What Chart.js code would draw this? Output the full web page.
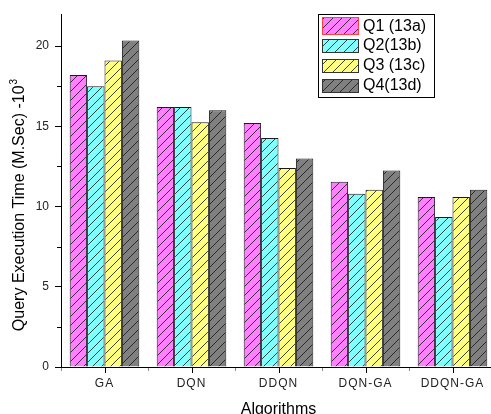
<!DOCTYPE html>
<html><head><meta charset="utf-8">
<style>html,body{margin:0;padding:0;overflow:hidden;background:#fff;width:491px;height:414px}canvas{display:block}</style>
<script src="https://cdn.jsdelivr.net/npm/chart.js@4.4.0/dist/chart.umd.min.js"></script>
</head><body><canvas id="c" width="500" height="414"></canvas>
<script>
const categories = ['GA','DQN','DDQN','DQN-GA','DDQN-GA'];
const seriesNames = ['Q1 (13a)','Q2(13b)','Q3 (13c)','Q4(13d)'];
const q1 = [18.2, 16.2, 15.2, 11.55, 10.6];
const q2 = [17.5, 16.2, 14.27, 10.8, 9.35];
const q3 = [19.1, 15.25, 12.4, 11.05, 10.6];
const q4 = [20.35, 16.0, 13.0, 12.25, 11.05];
const yTicks = [0, 5, 10, 15, 20];
const yMinorTicks = [2.5, 7.5, 12.5, 17.5];
const yTitle = 'Query Execution Time (M.Sec) -10';
const yTitleSup = '3';
const xTitle = 'Algorithms';
const colors = ['#FF80FF', '#80FFFF', '#FFFF80', '#808080'];
const FONT = '"Liberation Sans", Arial, sans-serif';

function hatch(color, size) {
  const c = document.createElement('canvas');
  c.width = c.height = size;
  const x = c.getContext('2d');
  x.fillStyle = color; x.fillRect(0, 0, size, size);
  x.strokeStyle = 'rgba(20,20,20,0.8)'; x.lineWidth = 1;
  x.beginPath();
  x.moveTo(-1, size + 1); x.lineTo(size + 1, -1);
  x.moveTo(-1, 1); x.lineTo(1, -1);
  x.moveTo(size - 1, size + 1); x.lineTo(size + 1, size - 1);
  x.stroke();
  return document.getElementById('c').getContext('2d').createPattern(c, 'repeat');
}
const patterns = colors.map(c => hatch(c, 9));
const legendPatterns = colors.map(c => hatch(c, 9));

const decor = {
  id: 'decor',
  afterLayout(chart) {
    const s = chart.scales.x;
    if (!s._lsWrapped) {
      const orig = s.drawLabels.bind(s);
      s.drawLabels = function (ca) {
        const ctx = this.ctx; ctx.save(); ctx.letterSpacing = '1px'; orig(ca); ctx.restore();
      };
      s._lsWrapped = true;
    }
  },
  afterDraw(chart) {
    const { ctx, scales: { x, y } } = chart;
    ctx.save();
    ctx.strokeStyle = '#000'; ctx.lineWidth = 1;
    ctx.beginPath();
    yMinorTicks.forEach(v => {
      const py = Math.round(y.getPixelForValue(v)) + 0.5;
      ctx.moveTo(y.right - 4, py); ctx.lineTo(y.right, py);
    });
    categories.forEach((c, i) => {
      const px = Math.round(x.getPixelForValue(i)) + 0.5;
      ctx.moveTo(px, x.top); ctx.lineTo(px, x.top + 6);
    });
    ctx.stroke();

    // axis titles
    ctx.fillStyle = '#000';
    ctx.textBaseline = 'alphabetic';
    ctx.font = '16px ' + FONT;
    ctx.textAlign = 'center';
    ctx.fillText(xTitle, (x.left + x.right) / 2, 414);

    ctx.save();
    ctx.translate(24, 205);
    ctx.rotate(-Math.PI / 2);
    ctx.font = '16px ' + FONT;
    const w1 = ctx.measureText(yTitle).width;
    ctx.font = '10px ' + FONT;
    const w2 = ctx.measureText(yTitleSup).width;
    const start = -(w1 + w2 + 1) / 2;
    ctx.textAlign = 'left';
    ctx.font = '16px ' + FONT;
    ctx.fillText(yTitle, start, 0);
    ctx.font = '10px ' + FONT;
    ctx.fillText(yTitleSup, start + w1 + 1, -7);
    ctx.restore();

    // legend
    ctx.strokeStyle = '#000';
    ctx.strokeRect(318.5, 14.5, 116, 83);
    const rows = [
      { y: 17, h: 18 }, { y: 39, h: 14 }, { y: 59, h: 14 }, { y: 79, h: 14 }
    ];
    const textY = [27, 46, 66, 86];
    ctx.font = '16px ' + FONT;
    ctx.textAlign = 'left';
    ctx.textBaseline = 'middle';
    seriesNames.forEach((n, i) => {
      const r = rows[i];
      ctx.fillStyle = legendPatterns[i];
      ctx.fillRect(323, r.y, 36, r.h);
      ctx.strokeStyle = i === 0 ? '#ff4040' : '#333';
      ctx.strokeRect(322.5, r.y + 0.5, 36, r.h - 1);
      ctx.fillStyle = '#000';
      ctx.fillText(n, 363, textY[i]);
    });
    ctx.restore();
  }
};

new Chart(document.getElementById('c'), {
  type: 'bar',
  data: {
    labels: categories,
    datasets: [q1, q2, q3, q4].map((d, i) => ({
      label: seriesNames[i], data: d, backgroundColor: patterns[i],
      borderColor: '#1a1a1a', borderWidth: 1,
      categoryPercentage: 0.8, barPercentage: 1.0
    }))
  },
  options: {
    responsive: false, animation: false,
    layout: { padding: { top: 14, right: 4, left: 0, bottom: 0 } },
    plugins: { legend: { display: false }, tooltip: { enabled: false } },
    scales: {
      x: {
        grid: { offset: true, drawOnChartArea: false, tickLength: 4, tickColor: '#888' },
        border: { color: '#000' },
        ticks: { color: '#222', font: { size: 12, family: FONT }, padding: 5, autoSkip: false, maxRotation: 0 },
        afterFit(s) { s.height = 47; }
      },
      y: {
        min: 0, max: 22,
        grid: { drawOnChartArea: false, tickLength: 6, tickColor: '#000' },
        border: { color: '#000' },
        ticks: { color: '#222', font: { size: 12, family: FONT }, padding: 6, includeBounds: false },
        afterBuildTicks(s) { s.ticks = yTicks.map(v => ({ value: v })); },
        afterFit(s) { s.width = 61; }
      }
    }
  },
  plugins: [decor]
});
</script></body></html>
